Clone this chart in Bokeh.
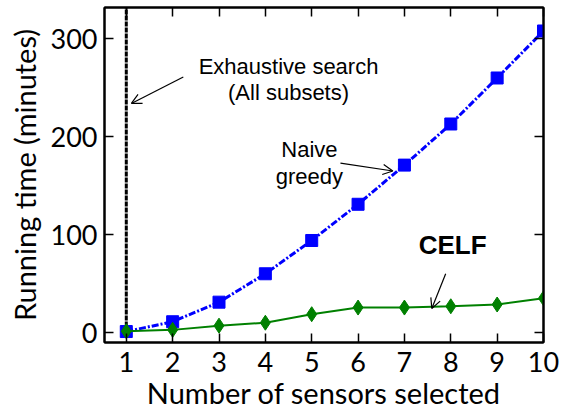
from bokeh.plotting import figure
from bokeh.models import Range1d, LinearAxis, Label, Arrow, OpenHead, FixedTicker
from bokeh.embed import file_html
from bokeh.resources import INLINE

# data
sensors = [1, 2, 3, 4, 5, 6, 7, 8, 9, 10]
naive_greedy = [1, 11, 31, 60, 94, 131, 171, 213, 260, 308]
celf = [1.3, 2.7, 7, 10, 18.7, 25.5, 25.5, 26.8, 28.6, 35]
exhaustive_x = [1, 1]
exhaustive_y = [0, 400]
x_ticks = [1, 2, 3, 4, 5, 6, 7, 8, 9, 10]
y_ticks = [0, 100, 200, 300]

TICK_FONT = "Lato"
ANN_FONT = "Liberation Sans"

p = figure(width=566, height=412, output_backend="svg", toolbar_location=None,
           x_range=Range1d(0.53, 10.0), y_range=Range1d(-10.2, 332),
           min_border_left=104, min_border_right=23, min_border_top=7, min_border_bottom=10)
p.grid.visible = False
p.outline_line_color = "black"
p.outline_line_width = 2
p.background_fill_color = "white"
p.border_fill_color = "white"

for ax in [p.xaxis[0], p.yaxis[0]]:
    ax.axis_line_color = "black"
    ax.axis_line_width = 2
    ax.major_tick_in = 9
    ax.major_tick_out = 0
    ax.minor_tick_line_color = None
    ax.major_tick_line_width = 1.5
    ax.major_label_text_font = TICK_FONT
    ax.major_label_text_font_size = "27px"
    ax.major_label_text_color = "black"
    ax.axis_label_text_font = TICK_FONT
    ax.axis_label_text_font_size = "29px"
    ax.axis_label_text_font_style = "normal"
    ax.axis_label_text_color = "black"

p.xaxis.ticker = FixedTicker(ticks=x_ticks)
p.yaxis.ticker = FixedTicker(ticks=y_ticks)
p.xaxis.axis_label = "Number of sensors selected"
p.yaxis.axis_label = "Running time (minutes)"
p.xaxis.major_label_standoff = 9
p.yaxis.major_label_standoff = 7
p.xaxis.axis_label_standoff = 0
p.yaxis.axis_label_standoff = 6

def frame_axis(ticks):
    return LinearAxis(ticker=FixedTicker(ticks=ticks), major_label_text_font_size="0px",
                      major_label_text_color=None, major_label_standoff=0,
                      major_tick_in=9, major_tick_out=0, minor_tick_line_color=None,
                      axis_line_color="black", axis_line_width=2, major_tick_line_width=1.5)

p.add_layout(frame_axis(x_ticks), "above")
p.add_layout(frame_axis(y_ticks), "right")

# exhaustive search line
p.line(exhaustive_x, exhaustive_y, line_color="black", line_width=3, line_dash="5 1")

# naive greedy
p.line(sensors, naive_greedy, line_color="#0000FF", line_width=3, line_dash="7 2 2 2")
p.scatter(sensors, naive_greedy, marker="square", size=12, fill_color="#0000FF", line_color="#0000FF")

# CELF
p.line(sensors, celf, line_color="#008000", line_width=2)
p.scatter(sensors, celf, marker="diamond", size=15, fill_color="#008000", line_color="#008000")

# annotations
ex_lines = ["Exhaustive search", "(All subsets)"]
ng_lines = ["Naive", "greedy"]
celf_label = "CELF"

def ann(x, y, t, size="22px", style="normal"):
    p.add_layout(Label(x=x, y=y, text=t, text_align="center", text_baseline="middle",
                       text_font=ANN_FONT, text_font_size=size, text_font_style=style,
                       text_color="black"))

def arrow(x0, y0, x1, y1):
    p.add_layout(Arrow(x_start=x0, y_start=y0, x_end=x1, y_end=y1, line_width=1.2,
                       end=OpenHead(size=10, line_width=1.2)))

ann(4.5, 272, ex_lines[0])
ann(4.5, 245, ex_lines[1])
arrow(2.23, 261, 1.11, 234)

ann(4.95, 187, ng_lines[0])
ann(4.95, 159, ng_lines[1])
arrow(5.62, 173, 6.75, 165)

ann(8.04, 89, celf_label, size="26px", style="bold")
arrow(7.89, 60, 7.59, 24.5)

open("out.html", "w").write(file_html(p, INLINE))
